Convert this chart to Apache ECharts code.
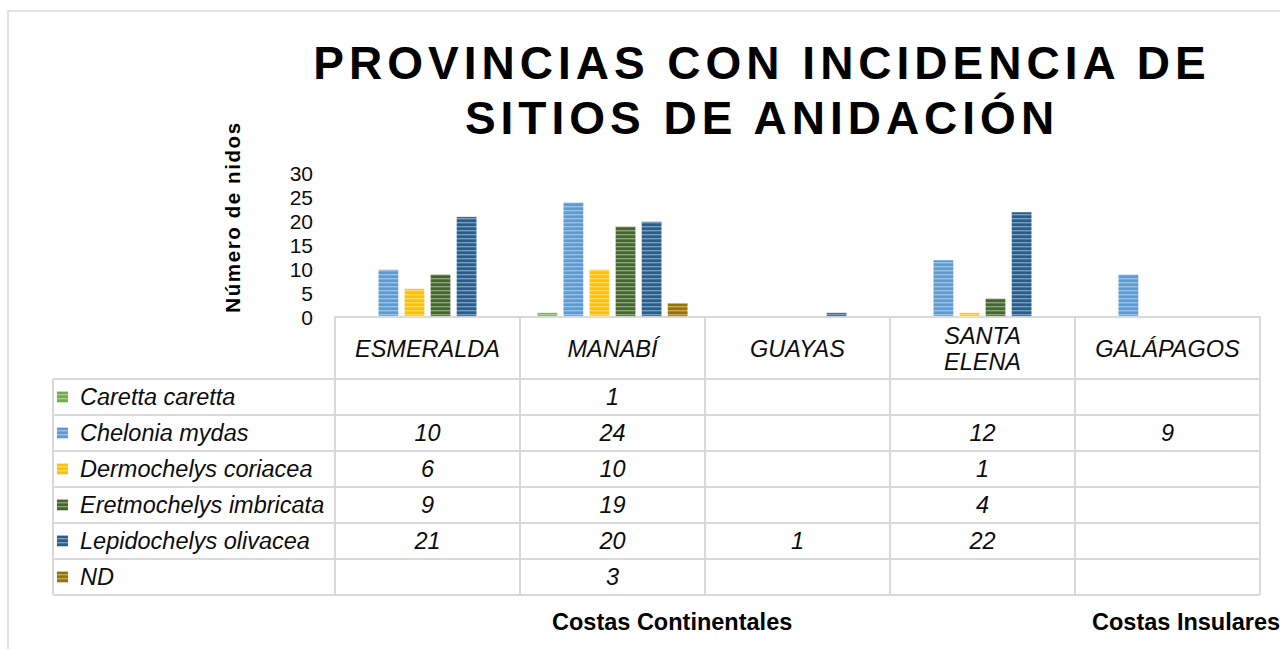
<!DOCTYPE html>
<html><head><meta charset="utf-8">
<script src="https://cdn.jsdelivr.net/npm/echarts@6/dist/echarts.min.js"></script>
<style>
html,body{margin:0;padding:0;background:#fff;}
#c{width:1280px;height:649px;}
#c svg text[style*="46px"]{letter-spacing:5px;}
#c svg text[style*="20.5px"]{letter-spacing:1.6px;}
</style></head><body><div id="c"></div>
<script>
// ---- data ----
const categories = ['ESMERALDA', 'MANABÍ', 'GUAYAS', 'SANTA\nELENA', 'GALÁPAGOS'];
const seriesNames = ['Caretta caretta', 'Chelonia mydas', 'Dermochelys coriacea', 'Eretmochelys imbricata', 'Lepidochelys olivacea', 'ND'];
const carettaCaretta = [null, 1, null, null, null];
const cheloniaMydas = [10, 24, null, 12, 9];
const dermochelysCoriacea = [6, 10, null, 1, null];
const eretmochelysImbricata = [9, 19, null, 4, null];
const lepidochelysOlivacea = [21, 20, 1, 22, null];
const nd = [null, 3, null, null, null];
const yTicks = [0, 5, 10, 15, 20, 25, 30];
const groupLabels = ['Costas Continentales', 'Costas Insulares'];
const titleText = 'PROVINCIAS CON INCIDENCIA DE\nSITIOS DE ANIDACIÓN';
const yAxisName = 'Número de nidos';

const seriesData = [carettaCaretta, cheloniaMydas, dermochelysCoriacea, eretmochelysImbricata, lepidochelysOlivacea, nd];
const colors = ['#70ad47', '#5b9bd5', '#ffc000', '#43682b', '#255e91', '#997300'];
const FONT = '"Liberation Sans", Arial, sans-serif';
const GRID_COLOR = '#d9d9d9';

function stripe(color) {
  const c = document.createElement('canvas');
  c.width = 4; c.height = 4;
  const g = c.getContext('2d');
  g.fillStyle = color; g.fillRect(0, 0, 4, 4);
  g.fillStyle = 'rgba(255,255,255,0.40)'; g.fillRect(0, 2, 4, 1);
  g.fillStyle = 'rgba(255,255,255,0.15)'; g.fillRect(0, 3, 4, 1);
  return { image: c.toDataURL(), repeat: 'repeat' };
}
const patterns = colors.map(stripe);

const chart = echarts.init(document.getElementById('c'), null, { renderer: 'svg' });

const option = {
  backgroundColor: '#fff',
  animation: false,
  title: {
    text: titleText,
    left: 757, top: 30, textAlign: 'center',
    textStyle: { fontFamily: FONT, fontSize: 46, fontWeight: 'bold', color: '#000', lineHeight: 55 }
  },
  grid: { left: 335, right: 20, top: 173, bottom: 332, containLabel: false },
  xAxis: {
    type: 'category', data: categories,
    axisLine: { show: true, lineStyle: { color: GRID_COLOR, width: 2 } },
    axisTick: { show: false }, axisLabel: { show: false }, splitLine: { show: false }
  },
  yAxis: {
    type: 'value', min: yTicks[0], max: yTicks[yTicks.length - 1], interval: yTicks[1] - yTicks[0],
    axisLine: { show: false }, axisTick: { show: false }, splitLine: { show: false },
    axisLabel: { margin: 22, fontFamily: FONT, fontSize: 21, color: '#0d0d0d' }
  },
  series: seriesNames.map((n, i) => ({
    name: n, type: 'bar', data: seriesData[i],
    barGap: '22%', barCategoryGap: '18%',
    itemStyle: { color: patterns[i], borderColor: 'rgba(255,255,255,0.55)', borderWidth: 1 }
  }))
};
chart.setOption(option);

// ---- data table & extra texts built from axis scale ----
const centers = categories.map((c, i) => chart.convertToPixel({ xAxisIndex: 0 }, i));
const band = centers[1] - centers[0];
const bounds = [centers[0] - band / 2].concat(centers.map(c => c + band / 2));
const baseY = chart.convertToPixel({ yAxisIndex: 0 }, 0);
const headerTop = baseY + 1;
const headerBottom = headerTop + 61;
const rowH = 36;
const tableLeft = 53;
const tableBottom = headerBottom + rowH * seriesNames.length;
const g = [];
const lineStyle = { stroke: GRID_COLOR, lineWidth: 2 };
const cellFont = 23.5;
// outer chart border
g.push({ type: 'rect', shape: { x: 8, y: 11, width: 1400, height: 800 }, style: { fill: null, stroke: GRID_COLOR, lineWidth: 1.5 }, silent: true });
// vertical lines
bounds.forEach(x => g.push({ type: 'line', shape: { x1: x, y1: headerTop, x2: x, y2: tableBottom }, style: lineStyle }));
g.push({ type: 'line', shape: { x1: tableLeft, y1: headerBottom, x2: tableLeft, y2: tableBottom }, style: lineStyle });
// horizontal lines
for (let r = 0; r <= seriesNames.length; r++) {
  const y = headerBottom + r * rowH;
  g.push({ type: 'line', shape: { x1: tableLeft, y1: y, x2: bounds[bounds.length - 1], y2: y }, style: lineStyle });
}
// header labels
categories.forEach((c, i) => g.push({
  type: 'text', x: centers[i], y: (headerTop + headerBottom) / 2,
  style: { text: c, fontFamily: FONT, fontSize: cellFont, fontStyle: 'italic', fill: '#0d0d0d', align: 'center', verticalAlign: 'middle', lineHeight: 26 }
}));
// rows
seriesNames.forEach((n, r) => {
  const cy = headerBottom + r * rowH + rowH / 2;
  g.push({ type: 'rect', shape: { x: 57, y: cy - 5.5, width: 11, height: 11 }, style: { fill: patterns[r] } });
  g.push({ type: 'text', x: 80, y: cy, style: { text: n, fontFamily: FONT, fontSize: cellFont, fontStyle: 'italic', fill: '#0d0d0d', align: 'left', verticalAlign: 'middle' } });
  seriesData[r].forEach((v, i) => {
    if (v === null) return;
    g.push({ type: 'text', x: centers[i], y: cy, style: { text: String(v), fontFamily: FONT, fontSize: cellFont, fontStyle: 'italic', fill: '#0d0d0d', align: 'center', verticalAlign: 'middle' } });
  });
});
// y axis name
g.push({ type: 'text', x: 232, y: 217, rotation: Math.PI / 2,
  style: { text: yAxisName, fontFamily: FONT, fontSize: 20.5, fontWeight: 'bold', fill: '#000', align: 'center', verticalAlign: 'middle' } });
// group labels
g.push({ type: 'text', x: 552, y: 622, style: { text: groupLabels[0], fontFamily: FONT, fontSize: 23.5, fontWeight: 'bold', fill: '#000', align: 'left', verticalAlign: 'middle' } });
g.push({ type: 'text', x: 1092, y: 622, style: { text: groupLabels[1], fontFamily: FONT, fontSize: 23.5, fontWeight: 'bold', fill: '#000', align: 'left', verticalAlign: 'middle' } });

chart.setOption({ graphic: g });
</script></body></html>
